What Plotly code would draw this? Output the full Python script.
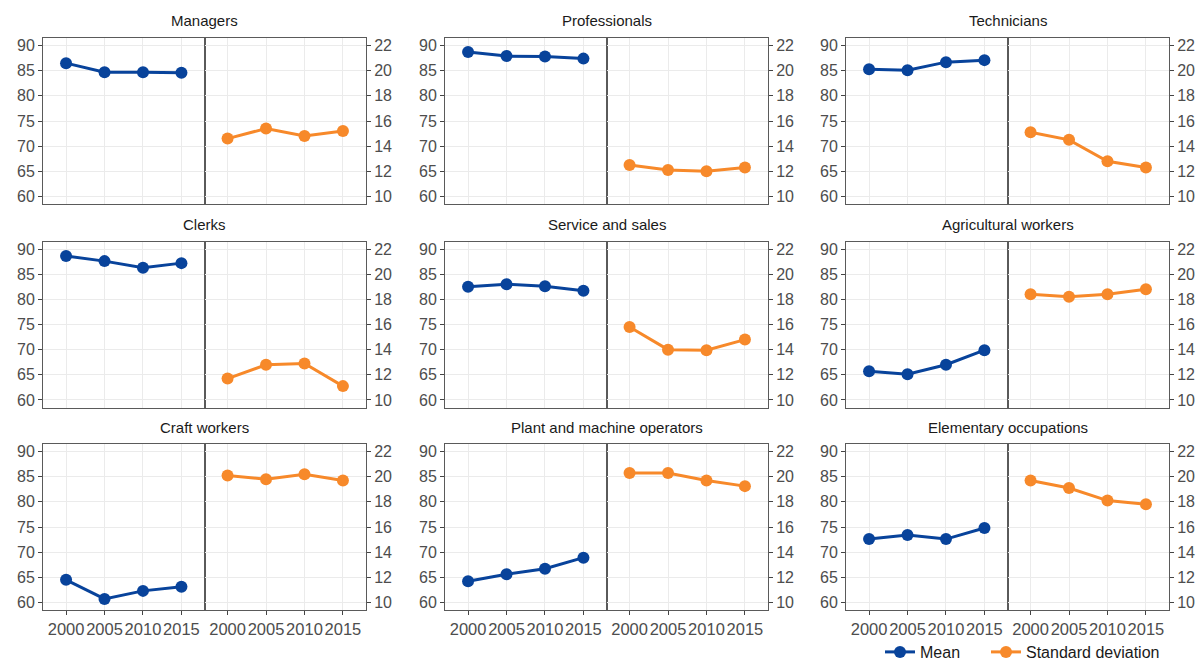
import plotly.graph_objects as go

# Survey years shown on every panel
years = [2000, 2005, 2010, 2015]

groups = [
    "Managers", "Professionals", "Technicians",
    "Clerks", "Service and sales", "Agricultural workers",
    "Craft workers", "Plant and machine operators", "Elementary occupations",
]

# Mean score per group and year
managers_mean = [86.5, 84.7, 84.7, 84.6]
professionals_mean = [88.7, 87.9, 87.8, 87.4]
technicians_mean = [85.3, 85.1, 86.7, 87.1]
clerks_mean = [88.6, 87.6, 86.3, 87.2]
service_mean = [82.5, 83.0, 82.6, 81.7]
agricultural_mean = [65.7, 65.1, 67.0, 69.9]
craft_mean = [64.5, 60.7, 62.3, 63.1]
plant_mean = [64.2, 65.6, 66.7, 68.9]
elementary_mean = [72.6, 73.4, 72.6, 74.8]

# Standard deviation per group and year
managers_sd = [14.6, 15.4, 14.8, 15.2]
professionals_sd = [12.5, 12.1, 12.0, 12.3]
technicians_sd = [15.1, 14.5, 12.8, 12.3]
clerks_sd = [11.7, 12.8, 12.9, 11.1]
service_sd = [15.8, 14.0, 13.95, 14.8]
agricultural_sd = [18.4, 18.2, 18.4, 18.8]
craft_sd = [20.1, 19.8, 20.2, 19.7]
plant_sd = [20.3, 20.3, 19.7, 19.25]
elementary_sd = [19.7, 19.1, 18.1, 17.8]

mean_series = [managers_mean, professionals_mean, technicians_mean,
               clerks_mean, service_mean, agricultural_mean,
               craft_mean, plant_mean, elementary_mean]
sd_series = [managers_sd, professionals_sd, technicians_sd,
             clerks_sd, service_sd, agricultural_sd,
             craft_sd, plant_sd, elementary_sd]

mean_ticks = [60, 65, 70, 75, 80, 85, 90]
sd_ticks = [10, 12, 14, 16, 18, 20, 22]

BLUE = "#08439b"
ORANGE = "#f7892a"
FONT = "Liberation Sans, Arial, sans-serif"

W, H = 1203, 664
col_left = [43, 445, 846]
panel_w = 323
row_top = [38, 241.5, 444]
panel_h = 166

year_labels = [str(y) for y in years]

fig = go.Figure()
layout = {}
annotations = []

for k, name in enumerate(groups):
    r, c = divmod(k, 3)
    x0 = col_left[c] / W
    xm = (col_left[c] + panel_w / 2) / W
    x1 = (col_left[c] + panel_w) / W
    y1 = 1 - row_top[r] / H
    y0 = 1 - (row_top[r] + panel_h) / H
    bottom_row = r == 2

    a, b = 2 * k + 1, 2 * k + 2
    xa, xb = f"x{a}", f"x{b}"
    ya, yb = f"y{a}", f"y{b}"

    common_x = dict(
        type="category", range=[-0.6, 3.6],
        showgrid=True, gridcolor="#ebebeb", gridwidth=1,
        showline=True, linecolor="#5a5a5a", linewidth=1, mirror=True,
        zeroline=False, fixedrange=True,
        ticks="outside" if bottom_row else "", ticklen=4,
        tickcolor="#444", showticklabels=bottom_row, tickangle=0,
        tickfont=dict(family=FONT, size=16.5, color="#4d4d4d"),
    )
    layout[f"xaxis{a}"] = dict(common_x, domain=[x0, xm], anchor=ya)
    layout[f"xaxis{b}"] = dict(common_x, domain=[xm, x1], anchor=yb)

    common_y = dict(
        showgrid=True, gridcolor="#ebebeb", gridwidth=1,
        showline=True, linecolor="#5a5a5a", linewidth=1, mirror=True,
        zeroline=False, fixedrange=True,
        ticks="outside", ticklen=4, tickcolor="#444",
        tickfont=dict(family=FONT, size=16, color="#4d4d4d"),
        domain=[y0, y1],
    )
    layout[f"yaxis{a}"] = dict(common_y, anchor=xa, side="left",
                               range=[58.5, 91.5], tickvals=mean_ticks)
    layout[f"yaxis{b}"] = dict(common_y, anchor=xb, side="right",
                               range=[9.4, 22.6], tickvals=sd_ticks)

    fig.add_trace(go.Scatter(
        x=year_labels, y=mean_series[k], xaxis=xa, yaxis=ya,
        mode="lines+markers", name="Mean", legend="legend",
        showlegend=(k == 0),
        line=dict(color=BLUE, width=3),
        marker=dict(color=BLUE, size=12),
    ))
    fig.add_trace(go.Scatter(
        x=year_labels, y=sd_series[k], xaxis=xb, yaxis=yb,
        mode="lines+markers", name="Standard deviation", legend="legend2",
        showlegend=(k == 0),
        line=dict(color=ORANGE, width=3),
        marker=dict(color=ORANGE, size=12),
    ))

    annotations.append(dict(
        text=name, x=(x0 + x1) / 2, y=1 - (row_top[r] - 17) / H,
        xref="paper", yref="paper", xanchor="center", yanchor="middle",
        showarrow=False, font=dict(family=FONT, size=15, color="#1a1a1a"),
    ))

legend_style = dict(
    orientation="h", xanchor="left", y=1 - 652 / H, yanchor="middle",
    font=dict(family=FONT, size=16, color="#1a1a1a"),
    bgcolor="rgba(0,0,0,0)", itemwidth=30,
)

fig.update_layout(
    **layout,
    annotations=annotations,
    width=W, height=H,
    margin=dict(l=0, r=0, t=0, b=0, autoexpand=False),
    paper_bgcolor="white", plot_bgcolor="white",
    font=dict(family=FONT, size=16, color="#1a1a1a"),
    showlegend=True,
    legend=dict(legend_style, x=880 / W),
    legend2=dict(legend_style, x=986 / W),
)

fig.write_html("out.html")
